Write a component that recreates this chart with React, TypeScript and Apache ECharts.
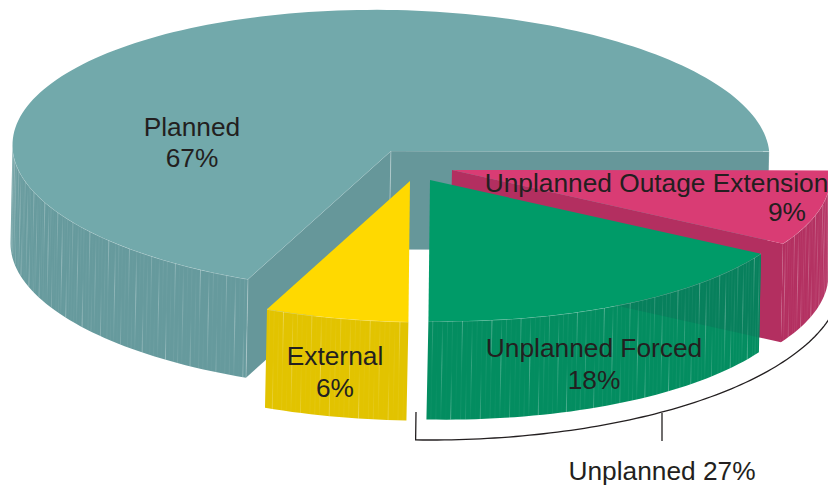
import React, { useEffect, useRef } from "react";
import * as echarts from "echarts";

// Slices in clockwise drawing order
const categories = ["Planned", "Unplanned Outage Extension", "Unplanned Forced", "External"];
const printedPercent = [67, 9, 18, 6];
// Share of the circle each slice really occupies in the picture (read from its edges)
const drawnShare = [68.2, 8.7, 17, 6.1];
const groupLabel = "Unplanned 27%";

const FONT = "'Liberation Sans', Arial, sans-serif";
const INK = "#231f20";
const TOP = ["#72a9ab", "#d93c74", "#009b68", "#ffd900"];
const SIDE = ["#669a9d", "#b32f60", "#038d60", "#e2c300"];
const EXPLODE = [[0, 0], [61, 19], [39, 29], [19, 30]];
const CX = 391, CY = 151, RX = 378.5, RY = 141, SHEAR = 0.016, H = 98.5, DROP_X = -2;
const START_DEG = 112.2;
const FONT_SIZE = 26.3;
const STRIPE_STEP = 0.75;
const STRIPE_ALPHA = [0.3, 0.08, 0.2, 0.05, 0.26, 0.12, 0.34, 0.06];
const LABELS = [
  { i: 0, name: [192, 127], pct: [192, 158] },
  { i: 1, name: [656.5, 183], pct: [787, 212] },
  { i: 2, name: [594, 348], pct: [594, 380] },
  { i: 3, name: [335, 356], pct: [335, 388] },
];

const rad = (d: number) => (d * Math.PI) / 180;
const arcPt = (cx: number, cy: number, t: number) => [
  cx + RX * Math.cos(rad(t)),
  cy + RY * Math.sin(rad(t)) + SHEAR * RX * Math.cos(rad(t)),
];
const drop = (p: number[]) => [p[0] + DROP_X, p[1] + H];

function sweepBounds(index: number) {
  let a = START_DEG;
  for (let i = 0; i < index; i++) a += drawnShare[i] * 3.6;
  return [a, a + drawnShare[index] * 3.6];
}
function arc(cx: number, cy: number, a: number, b: number) {
  const pts: number[][] = [];
  const n = Math.max(2, Math.ceil(Math.abs(b - a) / 1.5));
  for (let i = 0; i <= n; i++) pts.push(arcPt(cx, cy, a + ((b - a) * i) / n));
  return pts;
}
const gone = { silent: true };

function stripe(x: number, yTop: number, yBot: number, n: number, alpha: number) {
  const mode = n % 3;
  const stops =
    mode === 0
      ? [[0, 0.25], [0.5, 0.05], [1, 1]]
      : mode === 1
      ? [[0, 1], [0.55, 0.15], [1, 0.2]]
      : [[0, 0.1], [0.45, 1], [1, 0.1]];
  return {
    type: "polygon",
    ...gone,
    shape: { points: [[x, yTop], [x + 0.9, yTop], [x + 0.9 + DROP_X, yBot], [x + DROP_X, yBot]] },
    style: {
      fill: {
        type: "linear", x: 0, y: 0, x2: 0, y2: 1,
        colorStops: stops.map(([offset, k]) => ({ offset, color: `rgba(255,255,255,${(alpha * k).toFixed(3)})` })),
      },
    },
  };
}

function renderSlice(params: any, api: any) {
  const i = params.dataIndex;
  const [a] = sweepBounds(i);
  const share = api.value(0);
  const end = a + share * 3.6;
  const cx = CX + EXPLODE[i][0];
  const cy = CY + EXPLODE[i][1];
  const children: any[] = [];
  const apex = [cx, cy];

  // outer wall, only the part that faces the viewer
  for (const k of [0, 1]) {
    const lo = Math.max(a, 360 * k);
    const hi = Math.min(end, 360 * k + 180);
    if (hi <= lo) continue;
    const topEdge = arc(cx, cy, lo, hi);
    children.push({
      type: "polygon", ...gone,
      shape: { points: [...topEdge, ...topEdge.slice().reverse().map(drop)] },
      style: { fill: SIDE[i] },
    });
    if (i === 2) {
      // the cut face of the slice behind darkens this wall
      const [, behindEnd] = sweepBounds(1);
      const bx = CX + EXPLODE[1][0], by = CY + EXPLODE[1][1];
      const p0 = drop([bx, by]);
      const p1 = drop(arcPt(bx, by, behindEnd));
      const lineY = (x: number) => p0[1] + ((p1[1] - p0[1]) * (x - p0[0])) / (p1[0] - p0[0]);
      const over = arc(cx, cy, lo, hi).filter((p) => p[1] < lineY(p[0]));
      if (over.length > 1) {
        const last = over[over.length - 1];
        const edgeX = over[0][0] + DROP_X * 0.8;
        children.push({
          type: "polygon", ...gone,
          shape: { points: [...over, [last[0], lineY(last[0])], [edgeX, lineY(edgeX)]] },
          style: { fill: "#07805c" },
        });
      }
    }
    let n = 0;
    for (let t = lo + 0.6; t < hi; t += STRIPE_STEP, n++) {
      const p = arcPt(cx, cy, t);
      children.push(stripe(p[0], p[1], p[1] + H, n + i, STRIPE_ALPHA[(n * 3 + i) % STRIPE_ALPHA.length]));
    }
    children.push({
      type: "polyline", ...gone,
      shape: { points: topEdge },
      style: { stroke: "rgba(255,255,255,0.42)", lineWidth: 0.8, fill: "none" },
    });
  }

  // cut faces
  const faces: number[] = [];
  if (Math.cos(rad(a)) < -0.01) faces.push(a);
  if (Math.cos(rad(end)) > 0.01) faces.push(end);
  for (const f of faces) {
    const rim = arcPt(cx, cy, f);
    children.push({
      type: "polygon", ...gone,
      shape: { points: [apex, rim, drop(rim), drop(apex)] },
      style: { fill: i === 0 ? "#66979a" : SIDE[i] },
    });
    if (i === 0) {
      children.push({
        type: "polyline", ...gone,
        shape: { points: [drop(apex), apex, rim, drop(rim)] },
        style: { stroke: "rgba(255,255,255,0.3)", lineWidth: 0.8, fill: "none" },
      });
    }
  }

  // top
  const rim = arc(cx, cy, a, end);
  children.push({
    type: "polygon", ...gone,
    shape: { points: [apex, ...rim] },
    style: { fill: TOP[i] },
  });
  return { type: "group", children };
}

function renderLabel(params: any, api: any) {
  const row = LABELS[params.dataIndex];
  const text = (s: string, p: number[]) => ({
    type: "text", ...gone,
    style: { text: s, x: p[0], y: p[1], align: "center", verticalAlign: "middle", fontSize: FONT_SIZE, fontFamily: FONT, fill: INK },
  });
  return {
    type: "group",
    children: [
      text(categories[row.i], row.name),
      text(`${api.value(0)}%`, row.pct),
    ],
  };
}

function renderBracket() {
  const pts: number[][] = [[416, 412]];
  for (let t = 92; t >= 14; t -= 1) {
    pts.push([430 + 412 * Math.cos(rad(t)), 279 + 161 * Math.sin(rad(t))]);
  }
  return {
    type: "group",
    children: [
      { type: "polyline", ...gone, shape: { points: pts }, style: { stroke: INK, lineWidth: 1.3, fill: "none" } },
      { type: "line", ...gone, shape: { x1: 662, y1: 413, x2: 662, y2: 441 }, style: { stroke: INK, lineWidth: 1.3 } },
      {
        type: "text", ...gone,
        style: { text: groupLabel, x: 662, y: 471, align: "center", verticalAlign: "middle", fontSize: FONT_SIZE, fontFamily: FONT, fill: INK },
      },
    ],
  };
}

export default function App() {
  const ref = useRef<HTMLDivElement>(null);
  useEffect(() => {
    document.body.style.margin = "0";
    const chart = echarts.init(ref.current!, undefined, { renderer: "svg" });
    chart.setOption({
      animation: false,
      backgroundColor: "#ffffff",
      series: [
        {
          type: "custom",
          coordinateSystem: "none",
          z: 2,
          silent: true,
          renderItem: renderSlice,
          data: categories.map((name, i) => ({ name, value: [drawnShare[i]] })),
        },
        {
          type: "custom",
          coordinateSystem: "none",
          z: 3,
          silent: true,
          renderItem: renderLabel,
          data: LABELS.map((l) => ({ name: categories[l.i], value: [printedPercent[l.i]] })),
        },
        {
          type: "custom",
          coordinateSystem: "none",
          z: 3,
          silent: true,
          renderItem: renderBracket,
          data: [{ name: groupLabel, value: [printedPercent[1] + printedPercent[2]] }],
        },
      ],
    });
    return () => chart.dispose();
  }, []);
  return <div ref={ref} style={{ width: 828, height: 486 }} />;
}
